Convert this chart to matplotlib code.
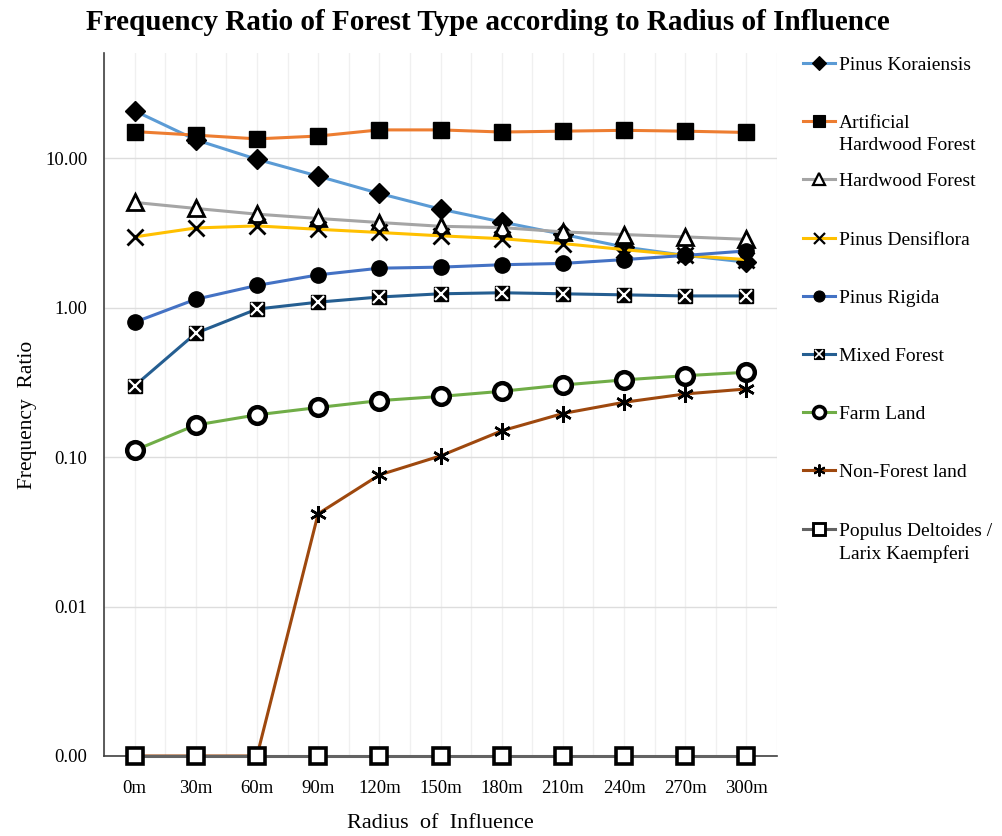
import numpy as np
import matplotlib
matplotlib.use("Agg")
from matplotlib import pyplot as plt
from matplotlib.lines import Line2D

plt.rcParams["font.family"] = ["Liberation Serif", "DejaVu Serif"]

# ---- data ----
radius = ["0m", "30m", "60m", "90m", "120m", "150m", "180m", "210m", "240m", "270m", "300m"]

pinus_koraiensis = [20.8, 13.3, 9.85, 7.6, 5.82, 4.57, 3.75, 3.1, 2.55, 2.24, 2.02]
artificial_hardwood = [15.1, 14.3, 13.5, 14.1, 15.5, 15.5, 15.0, 15.2, 15.4, 15.2, 14.9]
hardwood_forest = [5.07, 4.62, 4.23, 3.96, 3.72, 3.51, 3.44, 3.22, 3.09, 2.98, 2.87]
pinus_densiflora = [2.98, 3.42, 3.53, 3.35, 3.19, 3.03, 2.9, 2.69, 2.45, 2.24, 2.1]
pinus_rigida = [0.80, 1.14, 1.41, 1.66, 1.84, 1.87, 1.94, 1.98, 2.10, 2.24, 2.40]
mixed_forest = [0.30, 0.675, 0.98, 1.09, 1.18, 1.24, 1.26, 1.24, 1.22, 1.20, 1.20]
farm_land = [0.111, 0.164, 0.192, 0.215, 0.239, 0.255, 0.276, 0.304, 0.329, 0.351, 0.37]
non_forest = [0.0, 0.0, 0.0, 0.0418, 0.076, 0.102, 0.150, 0.196, 0.233, 0.265, 0.286]
populus_larix = [0.0] * 11

labels = ["Pinus Koraiensis", "Artificial\nHardwood Forest", "Hardwood Forest",
          "Pinus Densiflora", "Pinus Rigida", "Mixed Forest", "Farm Land",
          "Non-Forest land", "Populus Deltoides /\nLarix Kaempferi"]
series = [pinus_koraiensis, artificial_hardwood, hardwood_forest, pinus_densiflora,
          pinus_rigida, mixed_forest, farm_land, non_forest, populus_larix]

# zero values sit on the log axis floor (shown as 0.00)
floor = 0.001

colors = ["#5B9BD5", "#ED7D31", "#A5A5A5", "#FFC000", "#4472C4",
          "#255E91", "#70AD47", "#9E480E", "#636363"]

# marker styles (marker, size, face, edge, edge width)
styles = [
    dict(marker="D", markersize=10.5, markerfacecolor="k", markeredgecolor="k", markeredgewidth=1),
    dict(marker="s", markersize=12, markerfacecolor="k", markeredgecolor="k", markeredgewidth=1),
    dict(marker="^", markersize=12, markerfacecolor="w", markeredgecolor="k", markeredgewidth=2),
    dict(marker="x", markersize=11, markerfacecolor="k", markeredgecolor="k", markeredgewidth=2),
    dict(marker="o", markersize=11, markerfacecolor="k", markeredgecolor="k", markeredgewidth=1),
    dict(marker="s", markersize=10, markerfacecolor="k", markeredgecolor="k", markeredgewidth=1),
    dict(marker="o", markersize=12, markerfacecolor="w", markeredgecolor="k", markeredgewidth=3.2),
    dict(marker=(6, 2, 0), markersize=12, markerfacecolor="k", markeredgecolor="k", markeredgewidth=1.8),
    dict(marker="s", markersize=12, markerfacecolor="w", markeredgecolor="k", markeredgewidth=2.6),
]

fig = plt.figure(figsize=(10.03, 8.36), dpi=100)
ax = fig.add_axes([104 / 1003, 1 - 756 / 836, 673 / 1003, 703 / 836])

x = np.arange(len(radius))
for i, (vals, col, st) in enumerate(zip(series, colors, styles)):
    v = np.where(np.array(vals) > 0, vals, floor)
    ax.plot(x, v, color=col, linewidth=2.2, clip_on=False, zorder=3 + i * 0.1, **st)
    if i == 5:
        # white cross inside the mixed forest squares
        ax.plot(x, v, linestyle="none", marker="x", markersize=8, markeredgecolor="w",
                markeredgewidth=1.6, clip_on=False, zorder=3 + i * 0.1 + 0.05)

ax.set_yscale("log")
ax.set_ylim(floor, 10 ** 1.705)
ax.set_xlim(-0.5, len(radius) - 0.5)

yt = [0.001, 0.01, 0.1, 1, 10]
ax.set_yticks(yt)
ax.set_yticklabels(["0.00", "0.01", "0.10", "1.00", "10.00"])
ax.yaxis.set_minor_locator(matplotlib.ticker.NullLocator())
ax.set_xticks(x)
ax.set_xticklabels(radius)
ax.set_xticks(np.arange(-0.5, len(radius), 1.0), minor=True)
ax.tick_params(axis="both", length=0, labelsize=13.5)
ax.tick_params(axis="y", pad=12)
ax.tick_params(axis="x", pad=17)
ax.tick_params(axis="x", which="minor", length=0)

ax.grid(axis="y", which="major", color="#DDDDDD", linewidth=1)
ax.grid(axis="x", which="both", color="#F0F0F0", linewidth=1)
ax.set_axisbelow(True)

for s in ["top", "right"]:
    ax.spines[s].set_visible(False)
ax.spines["left"].set_color("#404040")
ax.spines["bottom"].set_color("#404040")
ax.spines["left"].set_linewidth(1.2)
ax.spines["bottom"].set_linewidth(1.2)

ax.set_xlabel("Radius  of  Influence", fontsize=16)
ax.xaxis.set_label_coords(0.5, -0.082)
ax.set_ylabel("Frequency  Ratio", fontsize=15.5)
ax.yaxis.set_label_coords(-0.1, 0.485)

fig.text(488 / 1003, 1 - 23 / 836, "Frequency Ratio of Forest Type according to Radius of Influence",
         ha="center", va="center", fontsize=21, fontweight="bold")

# legend drawn by hand so the handle lines up with the first text line
for i, (lab, col, st) in enumerate(zip(labels, colors, styles)):
    yy = 1 - (63 + 58.2 * i) / 836
    small = dict(st)
    small["markersize"] = st["markersize"] * 0.72
    small["markeredgewidth"] = st["markeredgewidth"] * 0.8
    fig.add_artist(Line2D([803 / 1003, 835 / 1003], [yy, yy], color=col, linewidth=2.2,
                          transform=fig.transFigure))
    fig.add_artist(Line2D([819 / 1003], [yy], linestyle="none", transform=fig.transFigure, **small))
    if i == 5:
        fig.add_artist(Line2D([819 / 1003], [yy], linestyle="none", marker="x", markersize=5.5,
                              markeredgecolor="w", markeredgewidth=1.2, transform=fig.transFigure))
    fig.text(839 / 1003, yy + 6 / 836, lab, ha="left", va="top", fontsize=14, linespacing=1.4)

fig.savefig("out.png", dpi=100, facecolor="w")
